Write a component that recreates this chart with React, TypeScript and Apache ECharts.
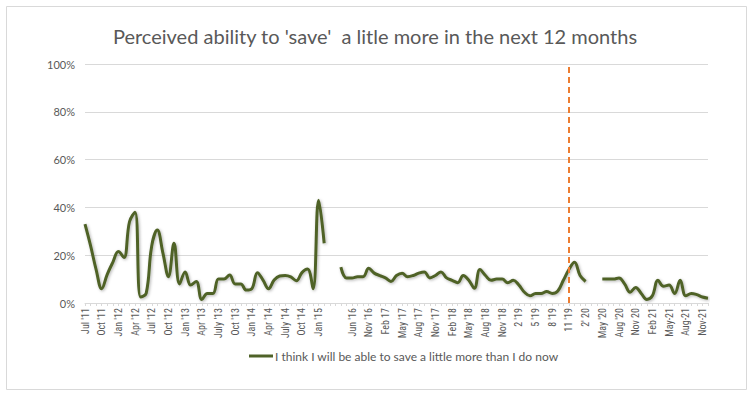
import React, { useEffect, useRef } from "react";
import * as echarts from "echarts";

const titleText = "Perceived ability to 'save'  a litle more in the next 12 months";
const seriesName = "I think I will be able to save a little more than I do now";

// one label every third survey point (blank where the axis skips)
const tickLabels = [
  "Jul '11", "Oct '11", "Jan '12", "Apr '12", "Jul '12", "Oct '12", "Jan '13", "Apr '13",
  "July '13", "Oct '13", "Jan '14", "Apr '14", "July '14", "Oct '14", "Jan '15", "",
  "Jun '16", "Nov '16", "Feb 17", "May '17", "Aug '17", "Nov '17", "Feb '18", "May '18",
  "Aug '18", "Nov '18", "2 '19", "5 '19", "8 '19", "11 '19", "2' 20", "May '20",
  "Aug '20", "Nov 20", "Feb 21", "May-21", "Aug-21", "Nov-21",
];

const pointCount = 113;
const categories = Array.from({ length: pointCount }, (_, i) =>
  i % 3 === 0 ? tickLabels[i / 3] : `pt${i}`
);

// % saying they will be able to save a little more (null = not surveyed)
const values: (number | null)[] = [
  33, 24, 14, 6, 12, 17, 21.5, 19, 34, 38,
  2.5, 4, 24, 30.5, 21, 11, 25, 8, 13, 7.5,
  9, 1.5, 4, 4, 10, 10, 11.7, 8, 8, 5.4,
  6, 12.7, 9.6, 6, 9.6, 11.3, 11.5, 10.9, 9.3, 12.7,
  14.2, 6, 43, 25, null, null, 15, 10.5, 10.5, 11,
  11, 14.5, 12.5, 11.5, 10.5, 9, 11.5, 12.5, 11, 11.5,
  12.5, 13, 10.5, 11.5, 13, 10.5, 9.5, 8.5, 11.5, 9.5,
  6.2, 14, 11.5, 9.5, 10, 10, 8.5, 9.5, 7.5, 4.5,
  3, 4, 4, 4.8, 4, 5, 9.5, 14, 17, 11.5,
  9, null, null, 10, 10, 10, 10.5, 8, 4.5, 6.5,
  4, 1.5, 3, 9.5, 7, 7.5, 4, 9.5, 3, 4,
  3.5, 2.5, 2,
];

const markerCategory = "11 '19";

const FONT = "Lato, 'Open Sans', sans-serif";
const GREY = "#595959";

export default function App() {
  const ref = useRef<HTMLDivElement>(null);

  useEffect(() => {
    document.body.style.margin = "0";
    if (!ref.current) return;
    const chart = echarts.init(ref.current, null, { renderer: "svg" });
    chart.setOption({
      animation: false,
      backgroundColor: "#ffffff",
      graphic: [
        {
          type: "rect",
          shape: { x: 6.5, y: 6.5, width: 740, height: 383 },
          style: { fill: "none", stroke: "#d9d9d9", lineWidth: 1 },
          silent: true,
        },
      ],
      title: {
        text: titleText,
        left: "center",
        top: 21,
        textStyle: { color: GREY, fontSize: 20, fontWeight: "normal", fontFamily: FONT },
      },
      legend: {
        left: 244,
        top: 345,
        icon: "rect",
        itemWidth: 24,
        itemHeight: 3,
        itemGap: 10,
        textStyle: { color: GREY, fontSize: 12, fontFamily: FONT, padding: [0, 0, 0, -3] },
        data: [seriesName],
      },
      grid: { left: 85, right: 42, top: 64, bottom: 95, containLabel: false },
      xAxis: {
        type: "category",
        data: categories,
        boundaryGap: false,
        axisLine: { show: true, lineStyle: { color: "#d9d9d9", width: 1 } },
        axisTick: { show: true, interval: 0, length: 3, lineStyle: { color: "#d9d9d9" } },
        axisLabel: {
          interval: 2,
          rotate: 90,
          color: GREY,
          fontSize: 10,
          fontFamily: "'Liberation Sans Narrow', 'Roboto Condensed', Lato, sans-serif",
          margin: 5,
        },
        splitLine: { show: false },
      },
      yAxis: {
        type: "value",
        min: 0,
        max: 100,
        interval: 20,
        axisLine: { show: false },
        axisTick: { show: false },
        axisLabel: { formatter: "{value}%", color: GREY, fontSize: 11, fontFamily: FONT, margin: 10 },
        splitLine: { lineStyle: { color: "#d9d9d9", width: 1 } },
      },
      series: [
        {
          name: seriesName,
          type: "line",
          data: values,
          smooth: 0.4,
          connectNulls: false,
          showSymbol: false,
          symbol: "none",
          color: "#4F6228",
          lineStyle: {
            color: "#4F6228",
            width: 3,
            shadowColor: "rgba(0,0,0,0.3)",
            shadowBlur: 3,
            shadowOffsetX: 1,
            shadowOffsetY: 1,
          },
          markLine: {
            silent: true,
            symbol: ["none", "none"],
            label: { show: false },
            lineStyle: { color: "#ED7D31", width: 2, type: [6, 4] },
            data: [{ xAxis: markerCategory }],
          },
        },
      ],
    });
    return () => chart.dispose();
  }, []);

  return <div ref={ref} style={{ width: 750, height: 398 }} />;
}
